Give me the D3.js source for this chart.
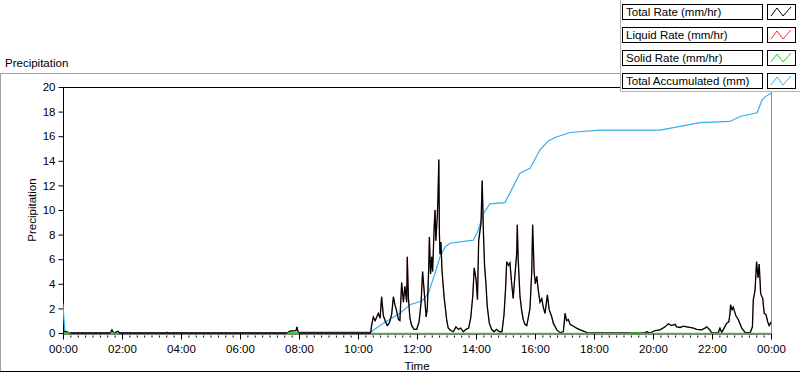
<!DOCTYPE html>
<html>
<head>
<meta charset="utf-8">
<script src="https://cdn.jsdelivr.net/npm/d3@7"></script>
<style>
  body { margin: 0; background: #fff; }
  svg { display: block; font-family: "Liberation Sans", Arial, sans-serif; }
</style>
</head>
<body>
<svg width="800" height="373"></svg>
<script>
// [hour of day, mm/hr]
const totalRate = [
  [0, 0], [0.07, 0.15], [0.24, 0], [1.6, 0], [1.66, 0.25], [1.72, 0], [1.86, 0.15], [1.92, 0],
  [3.5, 0], [3.53, 0.05], [3.56, 0], [7.6, 0], [7.69, 0.15], [7.9, 0.2], [7.93, 0.5], [7.97, 0.05], [8.0, 0],
  [10.43, 0], [10.46, 0.6], [10.52, 1.3], [10.58, 1.0], [10.69, 1.6], [10.75, 1.2], [10.8, 2.95],
  [10.86, 1.4], [10.92, 1.0], [10.99, 0.6], [11.06, 0.8], [11.14, 1.5], [11.2, 2.95], [11.25, 2.3],
  [11.31, 1.8], [11.37, 1.1], [11.42, 1.0], [11.48, 4.1], [11.54, 2.5], [11.59, 3.8], [11.65, 2.5],
  [11.67, 6.2], [11.71, 2.8], [11.76, 1.2], [11.82, 0.6], [11.9, 0.3], [11.99, 0.3], [12.07, 0.9],
  [12.14, 2.5], [12.19, 5.0], [12.24, 3.5], [12.31, 1.3], [12.35, 2.0], [12.4, 5.5], [12.42, 7.8],
  [12.46, 4.8], [12.5, 6.2], [12.53, 5.0], [12.58, 8.5], [12.61, 10.0], [12.64, 7.5], [12.69, 9.6],
  [12.71, 11.0], [12.74, 14.1], [12.76, 8.0], [12.78, 6.4], [12.81, 7.4], [12.85, 5.0], [12.92, 2.9],
  [13.01, 1.0], [13.06, 0.4], [13.14, 0.2], [13.23, 0.1], [13.32, 0.5], [13.4, 0.3], [13.48, 0.4],
  [13.57, 0.1], [13.66, 0.3], [13.75, 0.4], [13.82, 1.2], [13.89, 3.0], [13.94, 5.3], [14.0, 4.4],
  [14.05, 2.7], [14.09, 7.5], [14.14, 8.4], [14.17, 8.9], [14.21, 12.4], [14.25, 8.3], [14.29, 5.5],
  [14.34, 3.9], [14.38, 2.2], [14.45, 0.8], [14.53, 0.3], [14.61, 0.1], [14.7, 0.3], [14.79, 0.1],
  [14.88, 0.1], [14.95, 1.5], [15.0, 3.5], [15.04, 5.8], [15.1, 5.5], [15.15, 5.7], [15.21, 4.0],
  [15.26, 2.8], [15.32, 4.7], [15.38, 6.5], [15.4, 8.8], [15.43, 6.0], [15.49, 3.0], [15.55, 1.8],
  [15.6, 1.1], [15.66, 0.7], [15.72, 0.6], [15.77, 1.2], [15.83, 2.0], [15.89, 5.0], [15.92, 8.8],
  [15.97, 5.0], [16.01, 4.0], [16.06, 4.6], [16.11, 3.5], [16.17, 2.5], [16.23, 2.8], [16.28, 2.1],
  [16.34, 1.6], [16.42, 3.1], [16.48, 1.9], [16.57, 1.3], [16.62, 0.8], [16.74, 0.25], [16.85, 0.03],
  [16.96, 0.1], [17.02, 1.6], [17.07, 1.0], [17.13, 1.1], [17.19, 0.7], [17.3, 0.55], [17.41, 0.4],
  [17.53, 0.25], [17.64, 0.15], [17.81, 0], [19.7, 0], [19.79, 0.1], [19.9, 0], [20.07, 0.2],
  [20.24, 0.25], [20.41, 0.5], [20.52, 0.75], [20.63, 0.6], [20.75, 0.7], [20.8, 0.5], [20.92, 0.45],
  [21.03, 0.55], [21.14, 0.5], [21.25, 0.45], [21.37, 0.4], [21.48, 0.3], [21.65, 0.25], [21.76, 0.4],
  [21.82, 0.5], [21.93, 0.25], [21.99, 0], [22.21, 0], [22.27, 0.4], [22.33, 0.05], [22.41, 0.4],
  [22.5, 0.8], [22.57, 0.9], [22.61, 1.6], [22.63, 2.3], [22.68, 1.9], [22.72, 2.1], [22.81, 1.4],
  [22.89, 1.1], [23.01, 0.4], [23.12, 0.05], [23.29, 0], [23.37, 0.5], [23.4, 2.7], [23.46, 3.5],
  [23.51, 5.8], [23.56, 4.5], [23.6, 5.6], [23.65, 3.2], [23.72, 2.8], [23.77, 1.6], [23.83, 1.5],
  [23.89, 0.9], [23.94, 0.6], [24.0, 0.9]
];

// [hour of day, mm]
const totalAccumulated = [
  [0, 2.4], [0.03, 1.2], [0.07, 0], [7.96, 0], [7.97, 0.08], [10.43, 0.08], [10.86, 0.8],
  [11.42, 1.6], [11.76, 2.3], [12.16, 2.6], [12.38, 3.2], [12.61, 4.85], [12.78, 6.2], [12.95, 7.0],
  [13.12, 7.3], [13.91, 7.55], [14.08, 8.4], [14.25, 9.7], [14.47, 10.5], [14.98, 10.6], [15.26, 11.9],
  [15.49, 13.0], [15.83, 13.4], [16.17, 14.9], [16.44, 15.6], [16.68, 15.9], [17.19, 16.3],
  [18.2, 16.5], [20.24, 16.5], [20.92, 16.8], [21.59, 17.1], [22.61, 17.2], [22.95, 17.6],
  [23.53, 17.9], [23.69, 18.9], [23.8, 19.2], [24.0, 19.5]
];

// [hour of day, mm/hr]; null marks a gap
const solidRate = [
  [0.03, 0.04], [0.25, 0.04], [0.26, null], [1.6, 0.04], [1.75, 0.04], [1.76, null],
  [7.6, 0.04], [8.0, 0.04], [8.01, null], [10.43, 0], [19.2, 0], [19.25, 0.04], [19.55, 0.04],
  [19.6, 0], [24.0, 0]
];

const legendLabels = ["Total Rate (mm/hr)", "Liquid Rate (mm/hr)", "Solid Rate (mm/hr)", "Total Accumulated (mm)"];
const legendColors = ["#000000", "#ff2a2a", "#1ed21e", "#30b0f0"];
const yTicks = [0, 2, 4, 6, 8, 10, 12, 14, 16, 18, 20];

const day = new Date(2020, 0, 1);
const toDate = h => new Date(day.getTime() + h * 3600000);

const svg = d3.select("svg");
const plotLeft = 63, plotRight = 771, plotTop = 87, plotBottom = 333;

const x = d3.scaleTime().domain([toDate(0), toDate(24)]).range([plotLeft, plotRight]);
const y = d3.scaleLinear().domain([0, 20]).range([plotBottom, plotTop]);

// outer frame
svg.append("line").attr("x1", 0).attr("x2", 620).attr("y1", 73.5).attr("y2", 73.5).attr("stroke", "#a0a0a0");
svg.append("line").attr("x1", 0.5).attr("x2", 0.5).attr("y1", 73).attr("y2", 371).attr("stroke", "#a0a0a0");
svg.append("line").attr("x1", 0).attr("x2", 800).attr("y1", 371.5).attr("y2", 371.5).attr("stroke", "#000");

svg.append("text").attr("x", 5).attr("y", 67).attr("font-size", 11.5).text("Precipitation");

// plot frame
svg.append("line").attr("x1", plotLeft).attr("x2", plotRight).attr("y1", plotTop + 0.5).attr("y2", plotTop + 0.5).attr("stroke", "#000");
svg.append("line").attr("x1", plotRight + 0.5).attr("x2", plotRight + 0.5).attr("y1", plotTop).attr("y2", plotBottom).attr("stroke", "#8c8c8c");

// y axis
const yAxis = svg.append("g").attr("transform", `translate(${plotLeft + 0.5},0)`)
  .call(d3.axisLeft(y).tickValues(yTicks).tickSize(5).tickPadding(3));
yAxis.select(".domain").attr("d", `M0,${plotTop}V${plotBottom}`);
yAxis.selectAll("text").attr("font-size", 11.5).attr("font-family", "Liberation Sans, Arial, sans-serif").attr("fill", "#000");

// x axis: minor every 15 min, major every 2 h
const xAxisG = svg.append("g").attr("transform", `translate(0,${plotBottom + 0.5})`);
xAxisG.call(d3.axisBottom(x).ticks(d3.timeMinute.every(15)).tickSize(4).tickFormat(""))
  .select(".domain").attr("stroke", "#000");
xAxisG.selectAll(".tick line").attr("y1", 2);
const xMajor = svg.append("g").attr("transform", `translate(0,${plotBottom + 0.5})`)
  .call(d3.axisBottom(x).ticks(d3.timeHour.every(2)).tickSize(6).tickPadding(5)
    .tickFormat(d3.timeFormat("%H:%M")));
xMajor.select(".domain").remove();
xMajor.selectAll("text").attr("font-size", 11.5).attr("font-family", "Liberation Sans, Arial, sans-serif").attr("fill", "#000");

svg.append("text").attr("x", (plotLeft + plotRight) / 2).attr("y", 370).attr("text-anchor", "middle")
  .attr("font-size", 11.5).text("Time");
svg.append("text").attr("transform", `translate(36,${(plotTop + plotBottom) / 2}) rotate(-90)`)
  .attr("text-anchor", "middle").attr("font-size", 11.5).text("Precipitation");

// series, drawn over the axes
svg.append("defs").append("clipPath").attr("id", "clip")
  .append("rect").attr("x", plotLeft).attr("y", plotTop - 1)
  .attr("width", plotRight - plotLeft + 1).attr("height", plotBottom - plotTop + 2);

const plot = svg.append("g").attr("clip-path", "url(#clip)");

const line = d3.line()
  .defined(d => d[1] !== null)
  .x(d => x(toDate(d[0])))
  .y(d => y(d[1]));

plot.append("path").datum(totalAccumulated).attr("d", line)
  .attr("fill", "none").attr("stroke", legendColors[3]).attr("stroke-width", 1.2);
// liquid follows total here (solid is ~0), so it sits hidden under the black line
plot.append("path").datum(totalRate).attr("d", line)
  .attr("fill", "none").attr("stroke", legendColors[1]).attr("stroke-width", 0.5);
plot.append("path").datum(totalRate).attr("d", line)
  .attr("fill", "none").attr("stroke", legendColors[0]).attr("stroke-width", 1.3);
plot.append("path").datum(solidRate).attr("d", line)
  .attr("fill", "none").attr("stroke", legendColors[2]).attr("stroke-width", 1.5)
  .attr("transform", "translate(0,0.5)");

// legend
const legend = svg.append("g");
legend.append("rect").attr("x", 620).attr("y", 0).attr("width", 180).attr("height", 91).attr("fill", "#fff");
legend.append("path").attr("d", "M620.5,0V91.5H800").attr("fill", "none").attr("stroke", "#b4b4b4");

const rows = legend.selectAll("g.row").data(legendLabels).join("g")
  .attr("class", "row")
  .attr("transform", (d, i) => `translate(0,${4 + i * 23})`);

rows.append("rect").attr("x", 622.5).attr("y", 0.5).attr("width", 140).attr("height", 15)
  .attr("fill", "#fff").attr("stroke", "#000");
rows.append("text").attr("x", 626).attr("y", 12).attr("font-size", 11.5).text(d => d);
rows.append("rect").attr("x", 767.5).attr("y", 0.5).attr("width", 28).attr("height", 15)
  .attr("fill", "#fff").attr("stroke", "#000");
rows.append("path")
  .attr("d", "M771,12 L777,4 L783,12 L791,3")
  .attr("fill", "none")
  .attr("stroke", (d, i) => legendColors[i]);
</script>
</body>
</html>
